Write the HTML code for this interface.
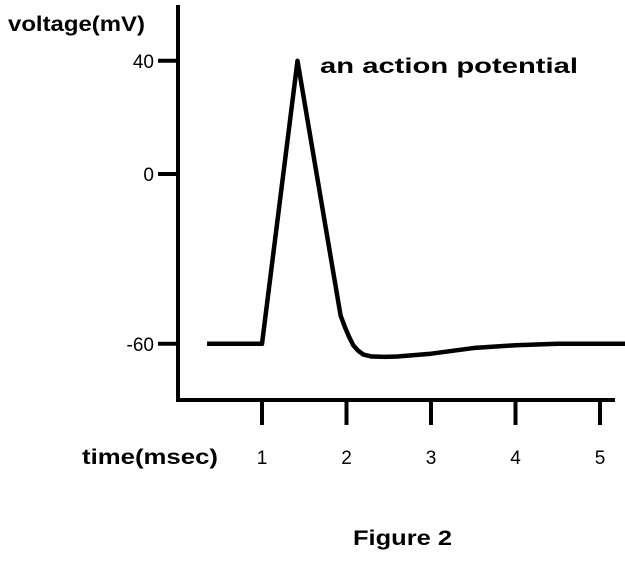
<!DOCTYPE html>
<html><head><meta charset="utf-8"><style>
body{margin:0;background:#fff;width:625px;height:558px;overflow:hidden}
text{font-family:"Liberation Sans",sans-serif;fill:#000}
.t{font-weight:bold}
.n{font-weight:normal}
</style></head><body>
<svg width="625" height="558">
<text class="t" x="8" y="31" font-size="21" textLength="137" lengthAdjust="spacingAndGlyphs">voltage(mV)</text>
<text class="t" x="82" y="464" font-size="21" textLength="136" lengthAdjust="spacingAndGlyphs">time(msec)</text>
<text class="t" x="320" y="73" font-size="21" textLength="258" lengthAdjust="spacingAndGlyphs">an action potential</text>
<text class="t" x="353" y="545" font-size="21" textLength="99" lengthAdjust="spacingAndGlyphs">Figure 2</text>
</svg>
<script>
const xTicks=[1,2,3,4,5];
const yTicks=[40,0,-60];
const times=[0.35,1,1.42,1.93,1.98,2.03,2.08,2.14,2.2,2.3,2.45,2.6,3,3.5,4,4.5,5.3];
const volts=[-60,-60,40,-50,-54,-57.5,-60.5,-62.5,-63.8,-64.5,-64.6,-64.5,-63.5,-61.5,-60.5,-60,-60];
const NS="http://www.w3.org/2000/svg";
const svg=document.querySelector('svg');
const X=t=>177.5+t*84.5;
const Y=v=>174-v*2.83;
function mk(tag,attrs,parent){const e=document.createElementNS(NS,tag);for(const k in attrs)e.setAttribute(k,attrs[k]);(parent||svg).appendChild(e);return e;}
const ya=mk('line',{x1:178,y1:5,x2:178,y2:402,stroke:'#000','stroke-width':4});


const xa=mk('line',{x1:176,y1:400,x2:615,y2:400,stroke:'#000','stroke-width':4});


xTicks.forEach(t=>{
 const l=mk('line',{x1:X(t),y1:400,x2:X(t),y2:425,stroke:'#000','stroke-width':4});
 
 
 const tx=mk('text',{x:X(t),y:464,'font-size':19,'text-anchor':'middle','class':'n'});
 tx.textContent=t;
 
 
});
yTicks.forEach(v=>{
 const l=mk('line',{x1:158,y1:Y(v),x2:178,y2:Y(v),stroke:'#000','stroke-width':4});
 
 
 const tx=mk('text',{x:154,y:Y(v)+7,'font-size':19,'text-anchor':'end','class':'n'});
 tx.textContent=v;
 
 
});
const pts=times.map((t,i)=>X(t)+','+Y(volts[i])).join(' ');
const pl=mk('polyline',{points:pts,fill:'none',stroke:'#000','stroke-width':4.5,'stroke-linejoin':'round'});


</script>
</body></html>
